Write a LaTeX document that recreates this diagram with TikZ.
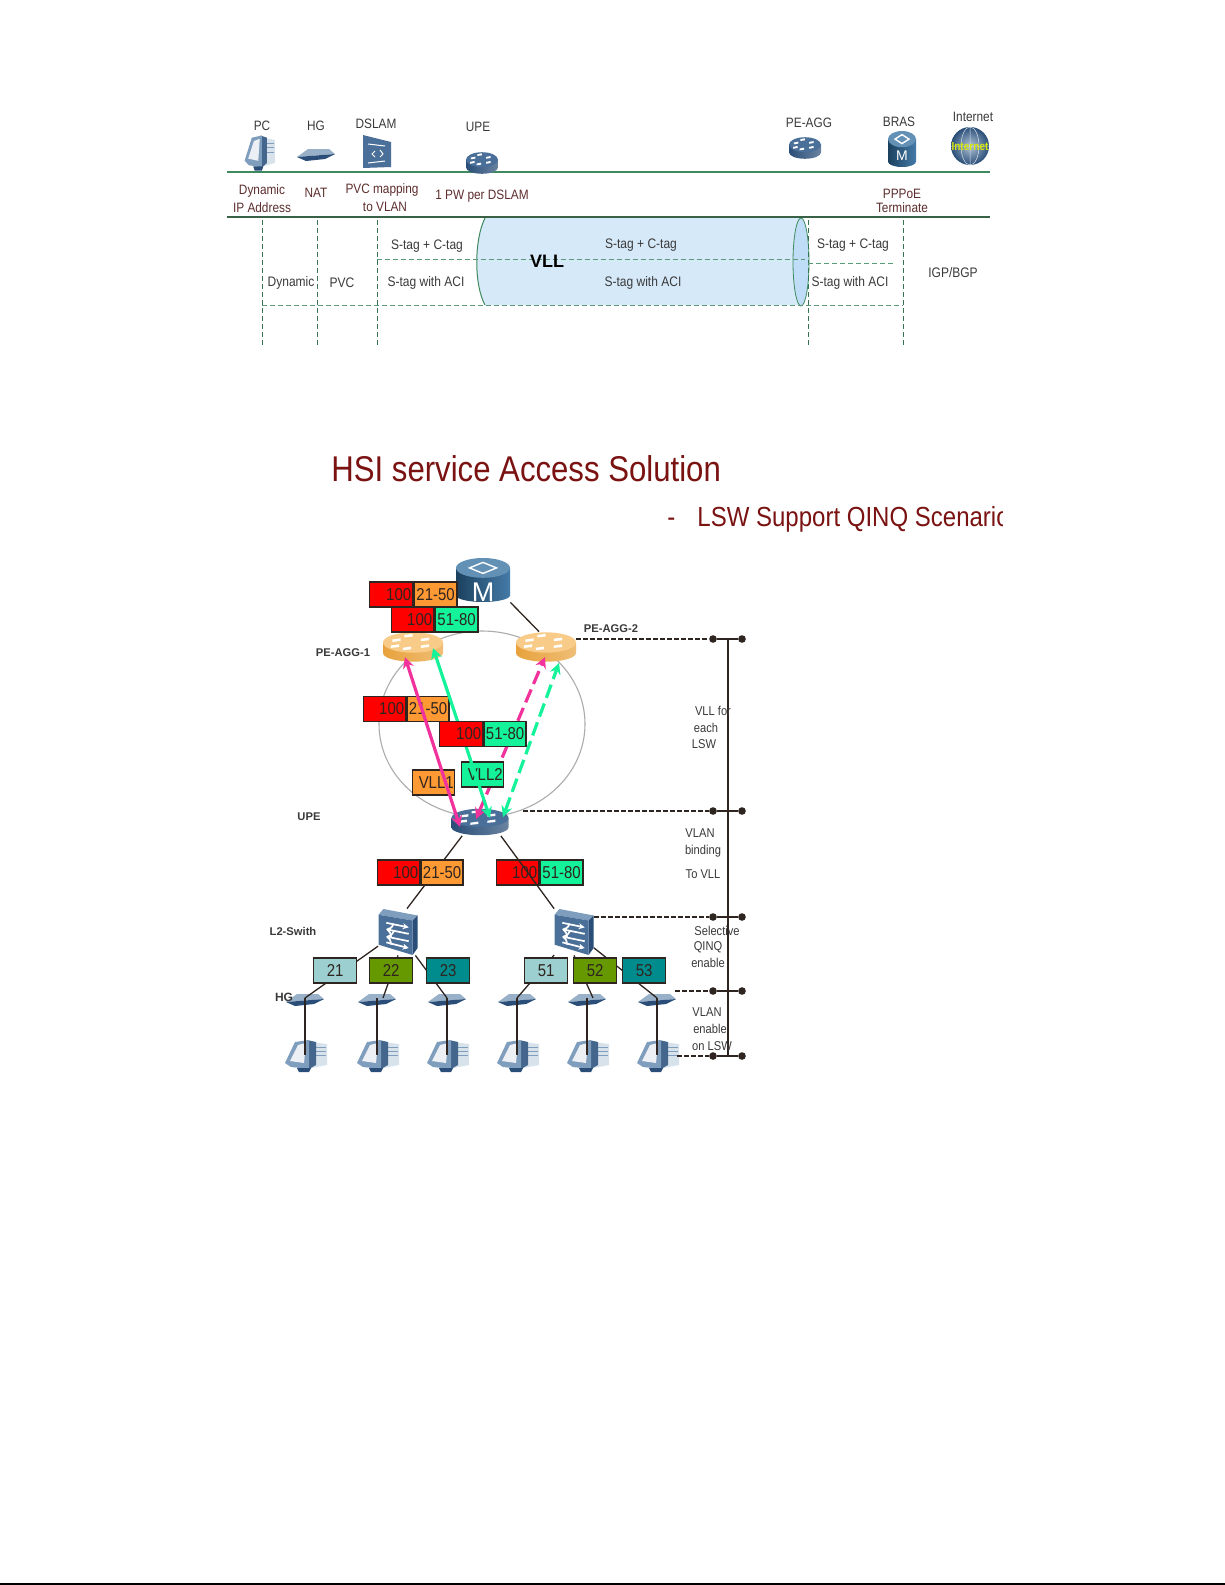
\documentclass[tikz,border=0pt]{standalone}
\usepackage{fontspec}
\setmainfont{Liberation Sans}
\newfontfamily\cnd[FakeStretch=0.87]{Liberation Sans}
\usetikzlibrary{arrows.meta,shapes.geometric}
\definecolor{grn}{HTML}{3E8A5E}
\definecolor{lgrn}{HTML}{5B9A78}
\definecolor{lnk}{HTML}{2E2420}
\definecolor{mar}{HTML}{5E2E2E}
\definecolor{txt}{HTML}{3A3A3A}
\definecolor{ttl}{HTML}{7A1212}
\definecolor{tube}{HTML}{D6E9F9}
\definecolor{tubeE}{HTML}{BFDDF6}
\definecolor{pk}{HTML}{F2329C}
\definecolor{gn}{HTML}{14F29A}
\definecolor{rd}{HTML}{FF0000}
\definecolor{og}{HTML}{FF9933}
\definecolor{sgA}{HTML}{9CCFCF}
\definecolor{sgB}{HTML}{669900}
\definecolor{sgC}{HTML}{008C8C}
\definecolor{bras1col}{HTML}{2F6C9E}
\definecolor{bras2col}{HTML}{2F6C9E}
\definecolor{HG}{HTML}{7F9DBC}
\definecolor{HGd}{HTML}{2A4E78}
\definecolor{HGm}{HTML}{4A6F98}
\definecolor{orB}{HTML}{E8A23C}
\definecolor{orT}{HTML}{F8CC88}
\newcommand{\fs}[1]{\fontsize{#1}{#1}\selectfont}
\tikzset{
 x=0.5pt,y=-0.5pt,
 lab/.style={inner sep=0,text=txt,font=\cnd\fs{6.8}},
 mlab/.style={inner sep=0,text=mar,font=\cnd\fs{6.8}},
 tag/.style={inner sep=0,text=txt,font=\cnd\fs{6.9}},
 blab/.style={inner sep=0,text=txt,font=\fs{5.6}},
 bbold/.style={inner sep=0,text=txt,font=\fs{5.6}\bfseries},
 icon/.style 2 args={inner sep=0,minimum width=#1*0.5pt,minimum height=#2*0.5pt},
 cell/.style={draw=lnk,line width=0.7pt,inner sep=0,minimum height=12.5pt,text=lnk,font=\cnd\fs{8.6},anchor=west},
 gdash/.style={lgrn,line width=0.5pt,dash pattern=on 2.5pt off 1.5pt},
 tdash/.style={grn!85!black,line width=0.5pt,dash pattern=on 2.5pt off 1.5pt},
 link/.style={lnk,line width=0.65pt},
 bdash/.style={lnk,line width=0.7pt,dash pattern=on 2.5pt off 1pt},
 dot/.style={circle,fill=lnk,inner sep=0,minimum size=3.8pt},
 arw/.style={line width=1.6pt,{Stealth[length=5.5pt,width=5.5pt]}-{Stealth[length=5.5pt,width=5.5pt]}},
 swa/.style={white,line width=.85pt,-{Stealth[length=3pt,width=3pt]}},
}
% name x y w h dark light
\newcommand{\routerI}[7]{%
 \node[icon={#4}{#5}] (#1) at (#2,#3) {};
 \begin{scope}[shift={(#2,#3)},xscale=#4/2,yscale=#5/2]
  \shade[left color=#6,right color=#6!70!white] (-1,-.3) -- (-1,.4) arc[start angle=180,end angle=0,x radius=1,y radius=.58] -- (1,-.3) -- cycle;
  \fill[#7] (0,-.3) ellipse[x radius=1,y radius=.68];
  \foreach \a/\b in {-.55/-.5,-.15/-.8,.4/-.55,.4/-.1,-.2/.05,-.6/-.1}
   \fill[white] (\a-.14,\b) -- (\a+.14,\b-.08) -- (\a+.14,\b+.1) -- (\a-.14,\b+.16) -- cycle;
 \end{scope}}
% name x y w h
\newcommand{\brasI}[5]{%
 \node[icon={#4}{#5}] (#1) at (#2,#3) {};
 \begin{scope}[shift={(#2,#3)},xscale=#4/2,yscale=#5/2]
  \shade[left color=#1col!60!black,right color=#1col!90!white] (-1,-.55) -- (-1,.7) arc[start angle=180,end angle=0,x radius=1,y radius=.3] -- (1,-.55) -- cycle;
  \fill[#1col!75!white] (0,-.55) ellipse[x radius=1,y radius=.45];
  \draw[white,line width=.7pt] (-.5,-.55) -- (0,-.8) -- (.5,-.55) -- (0,-.3) -- cycle;
 \end{scope}}
% name x y w h
\newcommand{\switchI}[5]{%
 \node[icon={#4}{#5}] (#1) at (#2,#3) {};
 \begin{scope}[shift={(#2,#3)},xscale=#4/2,yscale=#5/2]
  \fill[HG] (-1,-.75) -- (-.75,-1) -- (1,-.72) -- (.75,-.5) -- cycle;
  \fill[HGd] (.75,-.5) -- (1,-.72) -- (1,.7) -- (.75,1) -- cycle;
  \fill[HGm] (-1,-.75) -- (.75,-.5) -- (.75,1) -- (-1,.55) -- cycle;
  \draw[swa] (-.6,-.4) -- (.55,-.2);
  \draw[swa,<-] (-.6,-.12) -- (.55,.08);
  \draw[swa,<-] (-.6,.2) -- (.55,.4);
  \draw[swa] (-.6,.45) -- (.55,.7);
 \end{scope}}
% name x y
\newcommand{\modemI}[3]{%
 \node[icon={36}{16}] (#1) at (#2,#3) {};
 \begin{scope}[shift={(#2,#3)}]
  \fill[HG!80!white] (-19,4) -- (-8,-4) -- (13,-4) -- (19,1) -- cycle;
  \fill[HGd] (-19,4) -- (19,1) -- (9,6) -- (-10,8) -- cycle;
 \end{scope}}
% name x y xscale yscale
\newcommand{\pcS}[5]{%
 \node[icon={#4*40}{#5*30}] (#1) at (#2,#3) {};
 \begin{scope}[shift={(#2,#3)},xscale=#4,yscale=#5]
  \fill[HG!30!white] (6,-13) -- (22,-11) -- (22,10) -- (6,13) -- cycle;
  \foreach \y in {-8,-4,0} \draw[HG,line width=.3pt] (11,\y) -- (21,\y);
  \fill[HGd!70!HG] (2,-15) -- (11,-13) -- (11,10) -- (4,14) -- cycle;
  \fill[HG] (-20,8) -- (-10,-13) -- (4,-15) -- (4,14) -- (-14,12) -- cycle;
  \fill[HG!15!white] (-15,6) -- (-7,-10) -- (1,-12) -- (-1,8) -- cycle;
  \fill[HGd] (-8,13) -- (6,13) -- (4,17) -- (-6,17) -- cycle;
 \end{scope}}
\begin{document}
\begin{tikzpicture}
\useasboundingbox (0,0) rectangle (1225,1585);
\fill[white] (0,0) rectangle (1225,1585);
\coordinate (bl) at (0,1584); \coordinate (br) at (1225,1584);
\draw[black,line width=.8pt] (bl) -- (br);

%%% ---- top panel ----
\coordinate (tl) at (227,172); \coordinate (tr) at (990,172);
\coordinate (ml) at (227,217); \coordinate (mr) at (990,217);
\fill[tube] (485,218) .. controls (474,240) and (474,285) .. (485,305) -- (801,305) -- (801,218) -- cycle;
\draw[grn,line width=0.5pt] (485,218) .. controls (474,240) and (474,285) .. (485,305);
\draw[grn,fill=tubeE,line width=.4pt] (801,262) ellipse[x radius=8,y radius=44];
\draw[grn,line width=.9pt] (tl) -- (tr);
\draw[lnk!40!grn,line width=.9pt] (ml) -- (mr);

\foreach \n/\x in {a/262,b/317,c/377,d/808,e/903}{
 \coordinate (vt\n) at (\x,220);
 \coordinate (vb\n) at (\x,345);
 \draw[tdash] (vt\n) -- (vb\n);}
\coordinate (h1r) at (805,259);
\coordinate (h2l) at (808,263); \coordinate (h2r) at (893,263);
\path (vtc) ++(0,39) coordinate (h1l);
\path (vta) ++(0,85) coordinate (h3l);
\path (vte) ++(0,85) coordinate (h3r);
\draw[gdash] (h1l) -- (h1r);
\draw[gdash] (h2l) -- (h2r);
\draw[gdash] (h3l) -- (h3r);

\node[lab] (tPC) at (262,126) {PC};
\node[lab] (tHG) at (316,126) {HG};
\node[lab] (tDS) at (376,124) {DSLAM};
\node[lab] (tUPE) at (478,127) {UPE};
\node[lab] (tAGG) at (809,123) {PE-AGG};
\node[lab] (tBR) at (899,122) {BRAS};
\node[lab] (tIN) at (973,117) {Internet};
\node[mlab] (t1) at (262,191) {Dynamic};
\node[mlab] (t2) at (262,208) {IP Address};
\node[mlab] (t3) at (316,193) {NAT};
\node[mlab] (t4) at (382,190) {PVC mapping};
\node[mlab] (t5) at (385,207) {to VLAN};
\node[mlab] (t6) at (482,196) {1 PW per DSLAM};
\node[mlab] (t7) at (902,194) {PPPoE};
\node[mlab] (t8) at (902,208) {Terminate};
\node[tag] (s1) at (427,246) {S-tag + C-tag};
\node[tag] (s2) at (426,283) {S-tag with ACI};
\node[tag] (s3) at (641,245) {S-tag + C-tag};
\node[tag] (s4) at (643,283) {S-tag with ACI};
\node[tag] (s5) at (853,245) {S-tag + C-tag};
\node[tag] (s6) at (850,283) {S-tag with ACI};
\node[tag] (s7) at (291,283) {Dynamic};
\node[tag] (s8) at (342,283) {PVC};
\node[tag] (s9) at (953,273) {IGP/BGP};
\node[inner sep=0,text=black,font=\fs{9}\bfseries] (vll) at (547,261) {VLL};

\pcS{iPC}{259}{152}{.72}{1.1}
\modemI{iHG}{316}{153}
\node[icon={28}{33}] (iDS) at (377,152) {};
\begin{scope}[shift={(377,152)}]
 \fill[HGm] (-14,-17) -- (14,-10) -- (14,15) -- (-14,16) -- cycle;
 \draw[white,line width=.5pt] (-9,-8) -- (8,-6) (-9,11) -- (8,9) (-2,-1) -- (-5,2) -- (-2,5) (3,-2) -- (6,2) -- (3,5);
\end{scope}
\routerI{iUPE}{482}{163}{32}{22}{HGd}{HGm}
\routerI{iAGG}{805}{148}{32}{22}{HGd}{HGm}
\brasI{bras2}{902}{149}{28}{36}
\node[inner sep=0,text=white,font=\fs{7}] (bm) at (902,156) {M};
\node[circle,inner sep=0,minimum size=19pt,shade,inner color=HG!60!white,outer color=HGd] (iIN) at (970,146) {};
\draw[white!70!HG,line width=.25pt] (970,146) ellipse[x radius=9,y radius=19] (951,146) -- (989,146) (970,127) -- (970,165);
\node[inner sep=0,text=yellow!85!green,font=\cnd\fs{5.8}\bfseries] (iINt) at (970,147) {Internet};

%%% ---- title ----
\node[inner sep=0,anchor=base west,text=ttl,font=\cnd\fs{17.9}] (title) at (331,481) {HSI service Access Solution};
\begin{scope}
 \clip (660,490) rectangle (1002,545);
 \node[inner sep=0,anchor=base west,text=ttl,font=\cnd\fs{13.8}] (sub1) at (667,526) {-};
 \node[inner sep=0,anchor=base west,text=ttl,font=\cnd\fs{13.8}] (sub2) at (697,526) {LSW Support QINQ Scenario};
\end{scope}

%%% ---- lower diagram ----
\draw[gray!65,line width=.55pt] (482,724) ellipse[x radius=103,y radius=93];

\brasI{bras1}{483}{580}{54}{44}
\node[inner sep=0,text=white,font=\fs{13.5}] (bm1) at (483,592) {M};
\routerI{agg1}{413}{647}{60}{30}{orB}{orT}
\routerI{agg2}{546}{647}{60}{30}{orB}{orT}
\routerI{upe}{480}{822}{57}{27}{HGd}{HGm}
\switchI{sw1}{398}{932}{39}{46}
\switchI{sw2}{574}{932}{39}{46}
\modemI{hg1}{305}{998}\modemI{hg2}{377}{998}\modemI{hg3}{447}{998}
\modemI{hg4}{517}{998}\modemI{hg5}{587}{998}\modemI{hg6}{657}{998}
\pcS{pc1}{305}{1055}{1}{1}\pcS{pc2}{377}{1055}{1}{1}\pcS{pc3}{447}{1055}{1}{1}
\pcS{pc4}{517}{1055}{1}{1}\pcS{pc5}{587}{1055}{1}{1}\pcS{pc6}{657}{1055}{1}{1}

% links
\draw[link] (bras1.south east) -- ([xshift=-3.5pt]agg2.north);
\draw[link] ([xshift=5.5pt]upe.south west) -- ([xshift=4.5pt]sw1.north);
\draw[link] (sw1) -- (hg1.center);
\draw[link] (sw1.south) -- ([xshift=3pt]hg2.center);
\draw[link] (sw1) -- (hg3.center);
\draw[link] (sw2) -- (hg4.center);
\draw[link] (sw2.south) -- ([xshift=3pt]hg5.center);
\draw[link] (sw2) -- (hg6.center);
\foreach \i in {1,2,3,4,5,6} \draw[link] (hg\i.center) -- (pc\i.center);

% tag boxes
\node[cell,fill=rd,minimum width=21.5pt,text width=20pt,align=right] (b1a) at (369,594.5) {100};
\node[cell,fill=og,minimum width=21.5pt] (b1b) at (b1a.east) {21-50};
\node[cell,fill=rd,minimum width=21pt,text width=19.5pt,align=right] (b2a) at (391,619.5) {100};
\node[cell,fill=gn,minimum width=21.5pt] (b2b) at (b2a.east) {51-80};

\node[cell,fill=rd,minimum width=21pt,text width=19.5pt,align=right] (b5a) at (377,872.5) {100};
\node[cell,fill=og,minimum width=21pt] (b5b) at (b5a.east) {21-50};
\node[cell,fill=rd,minimum width=21pt,text width=19.5pt,align=right] (b6a) at (496,872.5) {100};
\node[cell,fill=gn,minimum width=21.5pt] (b6b) at (b6a.east) {51-80};
\draw[link] ([xshift=-4pt]upe.south east) -- (sw2.north west);

\foreach \n/\l/\c/\x in {c1/21/sgA/313,c2/22/sgB/369,c3/23/sgC/426,c4/51/sgA/524,c5/52/sgB/573,c6/53/sgC/622}
 \node[cell,fill=\c,minimum width=21.5pt] (\n) at (\x,970.5) {\l};

% VLL arrows
\coordinate (pdA) at (476,819); \coordinate (pdB) at (545,657);
\coordinate (gdA) at (503,817); \coordinate (gdB) at (559,663);
\coordinate (gsA) at (490,818); \coordinate (gsB) at (433,648);
\coordinate (psA) at (460,827); \coordinate (psB) at (405,657);
\draw[arw,pk,dash pattern=on 7pt off 3pt] (pdA) -- (pdB);
\draw[arw,gn,dash pattern=on 7pt off 3pt] (gdA) -- (gdB);
\node[cell,fill=gn,minimum width=21pt,text width=20pt,align=right] (vll2) at (461,774.5) {VLL2};
\node[cell,fill=og,minimum width=21pt,text width=20pt,align=right] (vll1) at (412,782.5) {VLL1};
\node[cell,fill=rd,minimum width=21pt,text width=19.5pt,align=right] (b3a) at (363,709) {100};
\node[cell,fill=og,minimum width=21pt] (b3b) at (b3a.east) {21-50};
\draw[arw,gn] (gsA) -- (gsB);
\draw[arw,pk] (psA) -- (psB);
\node[cell,fill=rd,minimum width=21.5pt,text width=20pt,align=right] (b4a) at (439,734) {100};
\node[cell,fill=gn,minimum width=21pt] (b4b) at (b4a.east) {51-80};

% right rail
\foreach \n/\y in {1/639,2/811,3/917,4/991,5/1056}{
 \node[dot] (dl\n) at (713,\y) {};
 \node[dot] (dr\n) at (742,\y) {};
 \draw[link,line width=.8pt] (dl\n) -- (dr\n);}
\coordinate (railT) at (728,639); \coordinate (railB) at (728,1056);
\draw[link,line width=.8pt] (railT) -- (railB);
\draw[bdash] (agg2.east |- dl1) -- (dl1);
\coordinate (upeR) at (523,811);
\draw[bdash] (upeR) -- (dl2);
\draw[bdash] (sw2.east |- dl3) -- (dl3);
\draw[bdash] (hg6.east |- dl4) -- (dl4);
\draw[bdash] (pc6.east |- dl5) -- (dl5);

% labels
\node[bbold] (lAGG1) at (343,653) {PE-AGG-1};
\node[bbold] (lAGG2) at (611,629) {PE-AGG-2};
\node[bbold] (lUPE) at (309,817) {UPE};
\node[bbold] (lL2) at (293,931) {L2-Swith};
\node[blab,font=\fs{6}\bfseries] (lHG) at (284,997) {HG};
\foreach \n/\t/\x/\y in {a/VLL for/713/711,b/each/706/728,c/LSW/704/744,d/VLAN/700/833,e/binding/703/851,f/To VLL/703/874,g/Selective/717/931,h/QINQ/708/947,i/enable/708/963,j/VLAN/707/1012,k/enable/710/1029,l/on LSW/712/1046}
 \node[lab,font=\cnd\fs{6.4}] (r\n) at (\x,\y) {\t};
\end{tikzpicture}
\end{document}
